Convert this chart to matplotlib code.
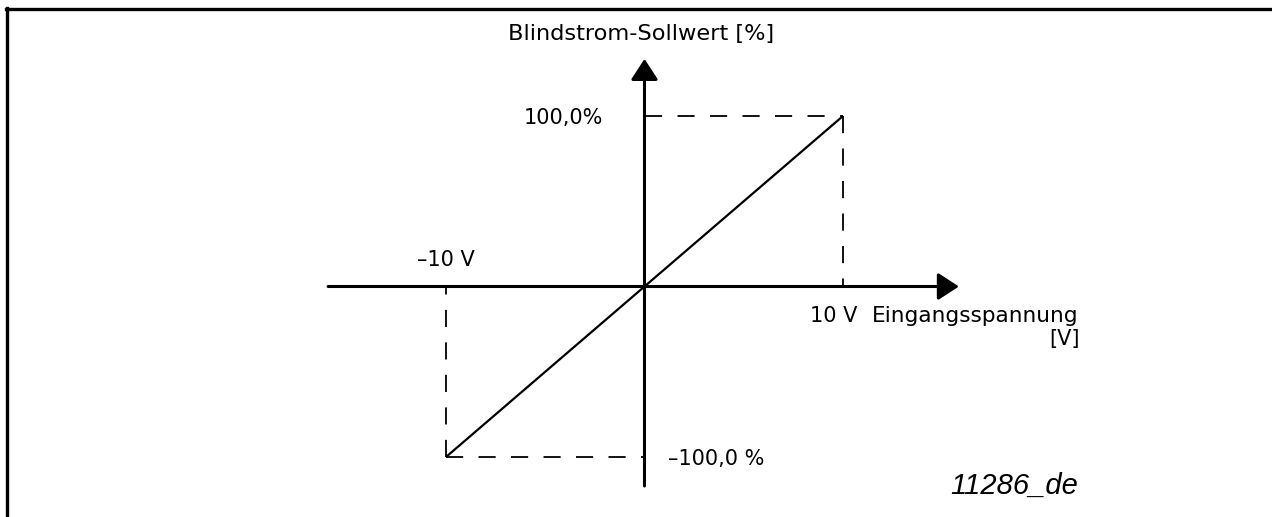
import matplotlib
matplotlib.use("Agg")
import matplotlib.pyplot as plt
from matplotlib.lines import Line2D

# characteristic: input voltage [V] -> reactive current reference [%]
voltage = [-10, 10]
reference = [-100.0, 100.0]

x_tick_labels = ["\u201310 V", "10 V"]
y_tick_labels = ["\u2013100,0 %", "100,0%"]
x_title = ["Eingangsspannung", "[V]"]
y_title = "Blindstrom-Sollwert [%]"
fig_id = "11286_de"

W, H = 1272, 517
fig = plt.figure(figsize=(W / 100, H / 100), dpi=100)
ax = fig.add_axes([0, 0, 1, 1])
ax.axis("off")

# pixel mapping: origin at (644.5, 286.5), 10 V = 198.5 px, 100 % = 170.5 px
sx = 19.85
sy = 1.705
ox, oy = 644.5, 286.5
ax.set_xlim(-ox / sx, (W - ox) / sx)
ax.set_ylim(-(H - oy) / sy, oy / sy)

font = "DejaVu Sans"
fs = 15

# frame lines (left and top only)
fig.add_artist(Line2D([7 / W, 7 / W], [0, 1 - 7.5 / H], color="k", lw=2.4))
fig.add_artist(Line2D([5.8 / W, 1], [1 - 8.5 / H, 1 - 8.5 / H], color="k", lw=2.4))

# axes with arrows
arrow = dict(arrowstyle="-|>,head_length=0.4,head_width=0.26", color="k",
             lw=2.2, mutation_scale=32, shrinkA=0, shrinkB=0)
ax.annotate("", xy=(15.84, 0), xytext=(-15.94, 0), arrowprops=arrow)
ax.annotate("", xy=(0, 133.5), xytext=(0, -117), arrowprops=arrow)

# dashed guide lines
dash = dict(color="k", lw=1.3, linestyle=(0, (9.5, 8.5)))
ax.plot([0, voltage[1]], [reference[1], reference[1]], **dash)
ax.plot([voltage[1], voltage[1]], [reference[1], 0], **dash)
ax.plot([voltage[0], 0], [reference[0], reference[0]], **dash)
ax.plot([voltage[0], voltage[0]], [reference[0], 0], **dash)

# characteristic line
ax.plot(voltage, reference, color="k", lw=1.6, solid_capstyle="butt")

# labels
txt = dict(family=font, fontsize=fs, va="baseline")
ax.text(voltage[0], 12.0, x_tick_labels[0], ha="center", **txt)
ax.text(voltage[1] - 0.45, -20.8, x_tick_labels[1], ha="center", **txt)
ax.text(1.18, -104.4, y_tick_labels[0], ha="left", **txt)
ax.text(-2.1, 95.6, y_tick_labels[1], ha="right", **txt)
ax.text(11.46, -20.8, x_title[0], ha="left", family=font, fontsize=15.6,
        va="baseline")
ax.text(21.94, -34.6, x_title[1], ha="right", **txt)
ax.text(-6.86, 144.6, y_title, ha="left", family=font, fontsize=16.2,
        va="baseline")
ax.text(21.84, -121.5, fig_id, family="Liberation Sans", style="italic",
        fontsize=21, ha="right", va="baseline")

fig.savefig("out.png", dpi=100)
